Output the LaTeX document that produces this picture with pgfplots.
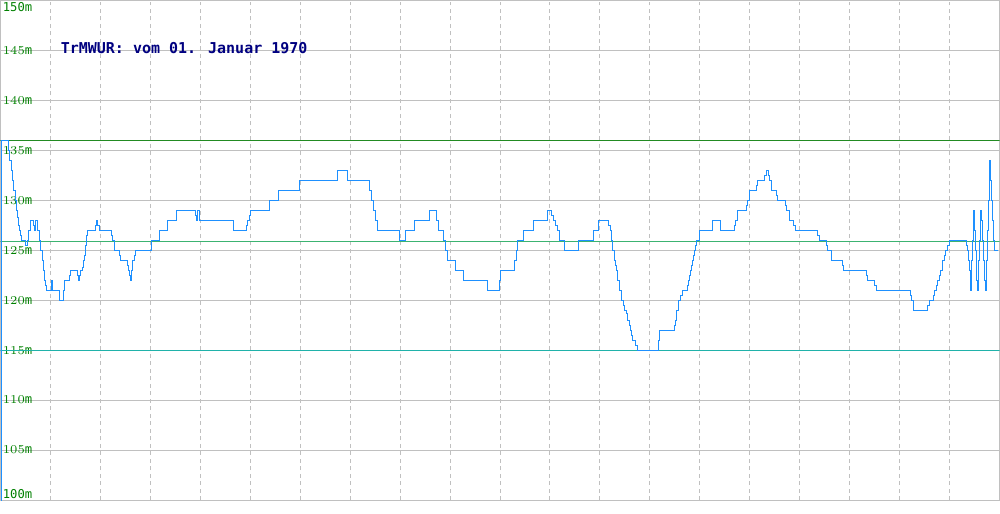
\documentclass[border=0pt]{standalone}
\usepackage{pgfplots}
\pgfplotsset{compat=1.18}
\usepackage{fontspec}
\newfontfamily\monofont{DejaVu Sans Mono}
\definecolor{gridgray}{RGB}{192,192,192}
\definecolor{serblue}{RGB}{30,144,255}
\definecolor{darkgr}{RGB}{34,139,34}
\definecolor{midgr}{RGB}{60,179,113}
\definecolor{cyanl}{RGB}{32,178,170}
\definecolor{labgreen}{RGB}{0,128,0}
\definecolor{titleblue}{RGB}{0,0,128}
\begin{document}
\begin{tikzpicture}
\begin{axis}[
  width=500pt, height=250pt, scale only axis,
  xmin=0, xmax=1000, ymin=100, ymax=150,
  xtick={50,100,...,950}, xticklabels={},
  ytick={105,110,...,145},
  extra y ticks={150},
  extra y tick labels={150m},
  extra y tick style={yticklabel style={anchor=north west, yshift=-0.5pt}},
  yticklabel={\pgfmathprintnumber{\tick}m},
  yticklabel style={anchor=west, xshift=0.5pt, inner sep=0.5pt, font=\monofont\fontsize{6.1}{7}\selectfont, text=labgreen},
  major tick length=0pt,
  xmajorgrids, ymajorgrids,
  x grid style={draw=gridgray, line width=0.5pt, dash pattern=on 2pt off 1.75pt},
  y grid style={draw=gridgray, line width=0.5pt},
  axis line style={draw=gridgray, line width=0.5pt},
  clip=true,
]
\addplot[darkgr, line width=0.5pt] coordinates {(0,136) (1000,136)};
\addplot[midgr, line width=0.5pt] coordinates {(0,125.9) (1000,125.9)};
\addplot[cyanl, line width=0.5pt] coordinates {(0,115) (1000,115)};
\addplot[serblue, line width=0.5pt, const plot, mark=none] coordinates {
(0,95)(1,136)(8,135)(9,134)(11,133)(12,132)(13,131)(15,130)(16,129)(17,128.3)(18,127.5)(19,127)(20,126.5)(21,126)(25,125.5)(27,126)(28,127)(30,128)(33,127.5)(34,127)(35,128)(37,127)(39,126)(40,125)(42,124)(43,123)(44,122)(45,121.5)(46,121)(50,121)(51,122)(52,121)(59,120)(63,121)(64,122)(69,122.5)(70,123)(77,122.5)(78,122)(79,122.5)(80,123)(82,123.3)(83,124)(84,124.5)(85,125.5)(86,126.5)(87,127)(95,127.5)(96,128)(97,127.5)(99,127)(111,126.5)(112,126)(114,125)(119,124.5)(120,124)(127,123.5)(128,123)(129,122.5)(130,122)(131,123)(132,124)(134,124.5)(135,125)(151,126)(159,127)(167,128)(176,129)(195,128.5)(196,128)(197,129)(199,128)(233,127)(246,127.5)(247,128)(249,128.5)(250,129)(269,130)(278,131)(299,132)(337,133)(347,132)(369,131)(371,130)(373,129)(375,128)(377,127)(399,126)(405,127)(414,128)(429,129)(436,128)(438,127)(443,126)(445,125)(447,124)(455,123)(463,122)(487,121)(499,122)(500,123)(515,124)(517,125)(518,126)(524,127)(534,128)(548,129)(552,128.5)(554,128)(556,127.5)(558,127)(560,126)(565,125)(579,126)(594,127)(599,128)(609,127.5)(611,127)(612,126)(613,125)(615,124)(616,123.5)(617,123)(618,122)(620,121)(622,120)(624,119.5)(625,119)(627,118.7)(628,118)(630,117.5)(631,117)(632,116.5)(633,116)(636,115.5)(638,115)(659,116)(660,117)(675,117.5)(676,118)(677,119)(679,120)(681,120.5)(683,121)(688,121.5)(689,122)(690,122.5)(691,123)(692,123.5)(693,124)(694,124.5)(695,125)(696,125.5)(697,126)(700,127)(713,128)(721,127)(735,127.5)(736,128)(738,129)(747,129.5)(748,130)(750,131)(757,131.5)(758,132)(765,132.5)(767,133)(769,132.5)(770,132)(772,131)(777,130.5)(778,130)(786,129.5)(787,129)(790,128)(794,127.5)(796,127)(818,126.5)(820,126)(827,125.5)(828,125)(832,124)(843,123.5)(844,123)(867,122.5)(868,122)(875,121.5)(877,121)(911,120.5)(912,120)(914,119)(928,119.5)(930,120)(934,120.5)(935,121)(937,121.5)(938,122)(940,122.5)(941,123)(943,124)(945,124.5)(946,125)(948,125.5)(950,126)(966,126)(967,125.5)(968,125)(969,124)(970,123)(971,121)(972,124)(973,126)(974,129)(975,127)(976,125)(977,122)(978,121)(979,124)(980,126)(981,129)(982,128)(983,126)(984,124)(985,122)(986,121)(987,124)(988,127)(989,130)(990,134)(991,132)(992,130)(993,128)(994,126)(995,125)(998,125)
};
\node[anchor=west, inner sep=0pt, font=\monofont\bfseries\fontsize{7.5}{9}\selectfont, text=titleblue] at (rel axis cs:0.06,0.904) {TrMWUR: vom 01. Januar 1970};
\node[anchor=south west, inner sep=0.5pt, xshift=0.5pt, font=\monofont\fontsize{6.1}{7}\selectfont, text=labgreen] at (rel axis cs:0,0) {100m};
\end{axis}
\end{tikzpicture}
\end{document}
